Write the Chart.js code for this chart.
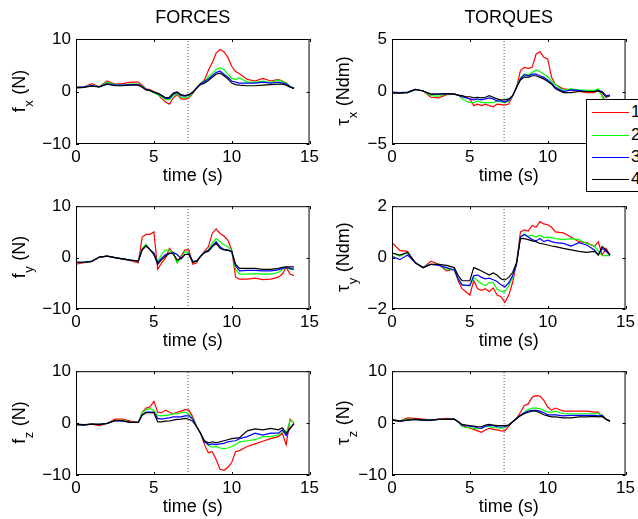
<!DOCTYPE html>
<html>
<head>
<meta charset="utf-8">
<script src="https://cdn.jsdelivr.net/npm/chart.js@4.4.1/dist/chart.umd.min.js"></script>
<style>
  body { margin: 0; background: #fff; overflow: hidden; }
  #wrap { position: relative; width: 638px; height: 519px; overflow: hidden; background: #fff; }
  #wrap canvas { position: absolute; }
  #legend {
    position: absolute; left: 586px; top: 99px; width: 70px; height: 91px;
    border: 1px solid #000; background: #fff; z-index: 5;
    font: 17px "Liberation Sans", Arial, sans-serif; color: #000;
  }
  #legend .row { position: absolute; left: 0; width: 70px; height: 20px; }
  #legend .ln { position: absolute; left: 5px; width: 37px; top: 10px; height: 0; border-top: 1px solid; }
  #legend .tx { position: absolute; left: 44px; top: 0; line-height: 20px; }
</style>
</head>
<body>
<div id="wrap">
  <div id="legend"></div>
</div>
<script>

// sample times (s), shared by every series
const time = [0, 0.5, 1, 1.5, 2, 2.5, 3, 3.5, 4,
  4.25, 4.5, 4.75, 5, 5.25, 5.5, 5.75, 6, 6.25, 6.5,
  6.75, 7, 7.25, 7.5, 7.75, 8, 8.25, 8.5, 8.75, 9,
  9.25, 9.5, 9.75, 10, 10.25, 10.5,
  11, 11.5, 12, 12.5, 13,
  13.25, 13.5, 13.75, 14];

const eventTime = 7.2;
const seriesNames = ['1', '2', '3', '4'];
const seriesColors = ['#ff0000', '#00ff00', '#0000ff', '#000000'];
const xTicks = [0, 5, 10, 15];

// f_x (N)
const fx1 = [0.6,0.8,1.5,0.9,2.0,1.4,1.5,1.8,1.8, 1.2,0.5,0.3,0.0,-0.5,-1.3,-2.0,-2.4,-1.2,-0.6, -1.4,-1.5,-1.2,-0.4,0.8,1.5,2.2,4.0,5.5,7.3, 8.0,7.6,6.5,4.8,3.8,3.4, 2.3,2.0,2.5,2.0,2.3, 2.0,1.6,1.0,0.6];
const fx2 = [0.7,0.8,1.2,0.9,1.8,1.3,1.2,1.4,1.4, 1.0,0.4,0.1,-0.3,-0.6,-1.0,-1.5,-1.6,-0.8,-0.4, -1.1,-1.2,-1.0,-0.3,0.7,1.6,2.0,2.8,3.4,4.2, 4.5,4.2,3.3,2.5,2.3,2.6, 1.8,1.8,2.0,1.7,2.2, 1.9,1.5,1.0,0.6];
const fx3 = [0.8,0.9,1.1,0.9,1.5,1.2,1.2,1.3,1.3, 0.9,0.4,0.2,-0.2,-0.4,-0.8,-1.3,-1.3,-0.5,-0.2, -0.8,-0.9,-0.7,-0.2,0.7,1.5,1.9,2.4,3.0,3.6, 3.9,3.3,2.7,2.0,1.8,1.6, 1.6,1.6,1.8,1.6,1.8, 1.6,1.4,0.9,0.6];
const fx4 = [0.8,0.8,1.0,0.9,1.4,1.1,1.1,1.2,1.2, 0.8,0.3,0.2,-0.1,-0.3,-0.7,-1.2,-1.1,-0.3,-0.1, -0.6,-0.8,-0.6,-0.1,0.6,1.3,1.6,2.1,2.7,3.3, 3.5,3.0,2.4,1.6,1.3,1.2, 1.1,1.1,1.2,1.3,1.4, 1.4,1.2,0.8,0.6];

// f_y (N)
const fy1 = [-1.3,-1.0,-0.8,0.1,0.3,0.0,-0.3,-0.6,-1.0, 4.0,4.5,4.5,5.0,-2.3,-1.0,-0.1,1.8,0.9,-1.0, 0.3,1.5,1.5,-1.3,-1.0,0.3,1.2,2.1,4.7,5.6, 4.7,4.2,3.4,1.5,-3.8,-4.2, -4.2,-4.0,-4.3,-4.2,-3.8, -3.2,-1.9,-3.2,-3.5];
const fy2 = [-0.9,-0.9,-0.75,0.1,0.3,0.0,-0.25,-0.5,-0.7, 1.8,2.6,1.5,0.6,-0.7,0.6,1.5,1.4,0.9,-1.0, -0.1,1.2,0.9,-0.9,-0.7,0.25,1.0,1.5,2.8,3.7, 3.1,2.5,2.1,1.4,-2.3,-3.2, -3.2,-3.1,-3.2,-3.2,-2.9, -2.3,-1.9,-2.3,-2.3];
const fy3 = [-0.9,-0.9,-0.75,0.1,0.3,0.0,-0.25,-0.5,-0.7, 1.5,2.3,1.5,0.9,-1.0,-0.1,0.6,0.75,1.0,0.6, -0.25,0.6,0.75,-0.7,-0.7,0.25,1.0,1.4,2.3,3.1, 2.1,1.6,1.5,1.2,-1.6,-2.6, -2.5,-2.5,-2.6,-2.6,-2.4, -2.1,-1.9,-2.1,-2.3];
const fy4 = [-0.9,-0.9,-0.75,0.1,0.3,0.0,-0.25,-0.5,-0.7, 1.5,2.3,1.6,0.6,-1.3,-0.4,0.25,0.9,0.7,-0.5, -0.1,0.6,0.6,-0.9,-0.7,0.25,1.0,1.2,2.1,2.8, 1.8,1.5,1.4,1.2,-1.3,-2.1, -2.1,-2.1,-2.3,-2.3,-2.1, -1.9,-1.8,-1.8,-1.8];

// f_z (N)
const fz1 = [-0.3,-0.4,-0.2,-0.5,-0.06,0.75,0.75,0.38,0.13, 2.1,2.9,3.1,4.2,2.1,2.0,2.5,2.1,1.8,2.1, 2.3,2.6,2.5,1.2,-0.7,-2.0,-4.15,-5.7,-5.5,-7.0, -8.9,-9.1,-8.55,-7.6,-5.5,-5.3, -4.5,-4.0,-3.5,-3.0,-2.6, -1.95,-4.15,0.75,0];
const fz2 = [-0.25,-0.4,-0.2,-0.25,-0.06,0.45,0.57,0.13,0.13, 2.0,2.6,2.8,2.5,1.5,1.4,1.5,1.6,1.8,1.8, 2.0,2.1,1.8,0.9,-0.7,-1.95,-3.5,-4.3,-4.65,-4.5, -4.8,-4.9,-4.8,-4.5,-4.15,-3.6, -3.4,-3.2,-2.6,-2.6,-2.3, -1.6,-1.95,0.57,0];
const fz3 = [-0.3,-0.4,-0.2,-0.25,-0.06,0.45,0.38,0.13,0.13, 1.6,2.1,2.1,2.1,0.9,0.75,0.9,1.0,1.2,1.2, 1.2,1.4,1.4,0.75,-0.7,-1.95,-3.6,-4.15,-4.0,-4.15, -4.0,-3.9,-3.6,-3.5,-3.4,-3.0, -2.6,-1.95,-2.3,-1.95,-1.95, -1.3,-2.4,-1.0,-0.1];
const fz4 = [-0.2,-0.3,-0.2,-0.25,-0.06,0.45,0.45,0.13,0.13, 1.5,2.0,2.0,2.0,0.25,0.25,0.38,0.4,0.57,0.7, 0.75,0.9,0.75,0.38,-0.7,-1.95,-3.4,-3.8,-3.6,-3.8, -3.6,-3.4,-3.2,-3.0,-2.9,-2.8, -1.5,-1.1,-1.3,-1.0,-1.3, -0.9,-1.95,-1.0,-0.1];

// tau_x (Ndm)
const tx1 = [-0.2,-0.15,-0.1,0.2,0.05,-0.55,-0.6,-0.3,-0.25, -0.35,-0.5,-0.55,-0.7,-1.35,-1.2,-1.35,-1.2,-1.35,-1.45, -1.2,-1.25,-1.3,-1.2,-0.4,0.4,2.0,2.3,2.2,2.3, 3.55,3.8,3.25,3.1,1.35,0.65, 0.25,0.15,0,-0.1,-0.1, 0.15,-0.4,-1.0,-0.8];
const tx2 = [-0.1,-0.15,-0.1,0.2,0.05,-0.4,-0.45,-0.25,-0.25, -0.35,-0.7,-0.9,-1.05,-1.05,-0.9,-1.05,-1.05,-1.05,-1.05, -0.9,-1.0,-1.05,-0.9,-0.4,0.4,1.3,1.65,1.6,1.8, 2.05,1.9,1.65,1.4,1.0,0.65, 0.1,0.25,0.15,0.1,0.1, 0.25,-0.5,-1.5,-1.5];
const tx3 = [-0.05,-0.1,-0.05,0.2,0.05,-0.25,-0.25,-0.2,-0.25, -0.35,-0.5,-0.6,-0.7,-0.8,-0.7,-0.8,-0.7,-0.6,-0.7, -0.9,-0.9,-1.0,-0.8,-0.4,0.4,1.2,1.6,1.5,1.65, 1.65,1.5,1.35,1.1,0.8,0.4, 0,0.15,0.1,0,0, 0.1,0,-0.4,-0.35];
const tx4 = [-0.1,-0.15,-0.1,0.2,0.05,-0.25,-0.25,-0.2,-0.25, -0.35,-0.4,-0.5,-0.5,-0.6,-0.55,-0.6,-0.55,-0.4,-0.55, -0.7,-0.8,-0.8,-0.7,-0.4,0.4,1.1,1.4,1.35,1.5, 1.5,1.35,1.2,0.95,0.7,0.25, -0.1,-0.1,0,0,0, 0.05,-0.1,-0.55,-0.4];

// tau_y (Ndm)
const ty1 = [0.58,0.28,0.24,-0.2,-0.4,-0.14,-0.26,-0.52,-0.45, -0.9,-1.21,-1.33,-1.46,-0.9,-1.21,-1.27,-1.21,-1.33,-1.18, -1.46,-1.52,-1.74,-1.46,-0.96,-0.2,1.0,1.08,1.03,1.25, 1.18,1.4,1.31,1.28,1.18,1.0, 0.96,0.8,0.62,0.58,0.43, 0.62,0.1,0.36,0.1];
const ty2 = [0.2,0.05,0.2,-0.2,-0.39,-0.26,-0.26,-0.45,-0.48, -0.83,-1.06,-1.08,-1.1,-0.77,-0.9,-1.02,-1.1,-0.96,-0.96, -1.23,-1.31,-1.33,-1.1,-0.77,-0.2,0.8,0.93,0.83,0.87, 0.8,0.87,0.78,0.8,0.78,0.74, 0.7,0.74,0.7,0.55,0.45, 0.24,0.08,0.08,0.08];
const ty3 = [0.05,-0.08,0.1,-0.2,-0.39,-0.26,-0.3,-0.39,-0.48, -0.83,-1.06,-1.08,-1.08,-0.7,-0.68,-0.77,-0.83,-0.8,-0.86, -0.93,-1.06,-1.14,-0.98,-0.7,-0.26,0.8,0.9,0.8,0.7, 0.65,0.74,0.62,0.68,0.62,0.58, 0.55,0.45,0.58,0.49,0.3, 0.1,0.36,0.24,0.1];
const ty4 = [0.18,0.1,0.2,-0.2,-0.39,-0.26,-0.26,-0.3,-0.39, -0.7,-0.9,-0.9,-0.9,-0.39,-0.45,-0.52,-0.6,-0.68,-0.6, -0.68,-0.83,-0.87,-0.77,-0.58,-0.2,0.75,0.74,0.7,0.65, 0.62,0.55,0.53,0.49,0.45,0.43, 0.36,0.3,0.24,0.2,0.24, 0.1,0.43,0.3,0.1];

// tau_z
const tz1 = [0.75,0.38,1.0,0.9,0.75,0.57,0.75,0.9,0.75, 0.25,-0.38,-0.7,-1.0,-1.2,-1.5,-1.76,-1.32,-1.0,-1.2, -1.32,-1.5,-1.5,-0.6,0.25,0.9,2.1,3.4,3.7,5.0, 5.3,5.2,4.4,3.1,2.5,2.9, 2.3,2.3,2.3,2.3,2.1, 2.1,1.2,0.75,0.38];
const tz2 = [0.57,0.38,0.75,0.7,0.57,0.57,0.7,0.7,0.75, 0.25,-0.7,-0.9,-0.9,-1.0,-1.13,-1.0,-0.7,-0.7,-0.9, -0.9,-1.0,-0.9,-0.38,0.25,0.9,1.5,2.1,2.6,2.9, 2.9,2.8,2.45,2.1,2.1,2.3, 1.8,1.8,1.8,1.8,1.8, 1.8,1.5,0.75,0.38];
const tz3 = [0.57,0.38,0.57,0.7,0.57,0.57,0.7,0.7,0.75, 0.25,-0.38,-0.5,-0.57,-0.7,-0.9,-1.0,-0.57,-0.5,-0.5, -0.7,-0.75,-0.7,-0.38,0.25,0.9,1.5,2.0,2.3,2.45, 2.45,2.3,2.0,1.6,1.6,1.6, 1.4,1.5,1.5,1.5,1.5, 1.4,1.5,0.75,0.38];
const tz4 = [0.57,0.38,0.57,0.7,0.57,0.57,0.7,0.7,0.75, 0.25,-0.25,-0.38,-0.5,-0.57,-0.7,-0.7,-0.38,-0.25,-0.38, -0.5,-0.5,-0.5,-0.38,0.25,0.9,1.4,1.8,2.1,2.3, 2.3,2.0,1.6,1.4,1.2,1.2, 1.0,1.0,1.2,1.2,1.3, 1.2,1.3,0.75,0.38];

const panels = [
  { col: 0, row: 0, series: [fx1, fx2, fx3, fx4], yTicks: [-10, 0, 10], sym: 'f', sub: 'x', unit: ' (N)', title: 'FORCES' },
  { col: 1, row: 0, series: [tx1, tx2, tx3, tx4], yTicks: [-5, 0, 5], sym: 'τ', sub: 'x', unit: ' (Ndm)', title: 'TORQUES' },
  { col: 0, row: 1, series: [fy1, fy2, fy3, fy4], yTicks: [-10, 0, 10], sym: 'f', sub: 'y', unit: ' (N)' },
  { col: 1, row: 1, series: [ty1, ty2, ty3, ty4], yTicks: [-2, 0, 2], sym: 'τ', sub: 'y', unit: ' (Ndm)' },
  { col: 0, row: 2, series: [fz1, fz2, fz3, fz4], yTicks: [-10, 0, 10], sym: 'f', sub: 'z', unit: ' (N)' },
  { col: 1, row: 2, series: [tz1, tz2, tz3, tz4], yTicks: [-10, 0, 10], sym: 'τ', sub: 'z', unit: ' (N)' }
];

// layout
const colLeft = [76, 392], rowTop = [39, 203, 368], rowH = [105, 106, 107];
const plotW = 234, padT = 12, padR = 12, axisW = 76, axisH = 46;
const labelX = [20, 28];
const FAM = '"Liberation Sans", Arial, Helvetica, sans-serif';

const minus = v => v < 0 ? '\u2212' + Math.abs(v) : String(v);

const framePlugin = {
    id: 'frame',
    afterDatasetsDraw(chart, args, o) {
        const ctx = chart.ctx;
        const {left, right, top, bottom} = chart.chartArea;
        const xs = chart.scales.x, ys = chart.scales.y;
        ctx.save();
        ctx.strokeStyle = '#000';
        ctx.lineWidth = 1;
        ctx.strokeRect(left + 0.5, top + 0.5, right - left - 1, bottom - top - 1);
        ctx.beginPath();
        xs.ticks.forEach(t => {
            const px = Math.round(xs.getPixelForValue(t.value)) + 0.5;
            ctx.moveTo(px, bottom); ctx.lineTo(px, bottom - 3);
            ctx.moveTo(px, top); ctx.lineTo(px, top + 3);
        });
        ys.ticks.forEach(t => {
            const py = Math.round(ys.getPixelForValue(t.value)) + 0.5;
            ctx.moveTo(left, py); ctx.lineTo(left + 3, py);
            ctx.moveTo(right, py); ctx.lineTo(right - 3, py);
        });
        ctx.stroke();

        // y label with subscript, rotated
        ctx.fillStyle = '#000';
        ctx.translate(o.labelX, (top + bottom) / 2);
        ctx.rotate(-Math.PI / 2);
        ctx.textBaseline = 'middle';
        ctx.textAlign = 'left';
        const big = '18px ' + FAM, small = '13px ' + FAM;
        ctx.font = big;
        const w1 = ctx.measureText(o.sym).width, w3 = ctx.measureText(o.unit).width;
        ctx.font = small;
        const w2 = ctx.measureText(o.sub).width;
        let x = -(w1 + w2 + w3) / 2;
        ctx.font = big; ctx.fillText(o.sym, x, 0); x += w1;
        ctx.font = small; ctx.fillText(o.sub, x + 0.5, 9); x += w2 + 1;
        ctx.font = big; ctx.fillText(o.unit, x, 0);
        ctx.restore();

        if (o.title) {
            ctx.save();
            ctx.fillStyle = '#000';
            ctx.font = '18px ' + FAM;
            ctx.textAlign = 'center';
            ctx.textBaseline = 'middle';
            ctx.fillText(o.title, (left + right) / 2, 18.5);
            ctx.restore();
        }
    }
};

const wrap = document.getElementById('wrap');

panels.forEach(p => {
    const cv = document.createElement('canvas');
    const top = p.row === 0 ? 0 : rowTop[p.row] - padT;
    const pt = rowTop[p.row] - top;
    const w = axisW + plotW + padR, h = pt + rowH[p.row] + axisH;
    cv.width = w; cv.height = h;
    cv.style.width = w + 'px'; cv.style.height = h + 'px';
    cv.style.left = (colLeft[p.col] - axisW) + 'px';
    cv.style.top = top + 'px';
    wrap.appendChild(cv);

    const yMin = p.yTicks[0], yMax = p.yTicks[p.yTicks.length - 1];

    const datasets = p.series.map((vals, i) => ({
        label: seriesNames[i],
        data: time.map((t, k) => ({x: t, y: vals[k]})),
        borderColor: seriesColors[i],
        borderWidth: 1.2,
        pointRadius: 0,
        tension: 0,
        order: 4 - i
    }));
    datasets.push({
        label: 'event',
        data: [{x: eventTime, y: yMin}, {x: eventTime, y: yMax}],
        borderColor: '#555',
        borderWidth: 1,
        borderDash: [1, 2],
        pointRadius: 0,
        order: 10
    });

    const tickFont = {family: FAM, size: 17};

    new Chart(cv, {
        type: 'line',
        data: {datasets},
        plugins: [framePlugin],
        options: {
            responsive: false,
            animation: false,
            devicePixelRatio: 1,
            events: [],
            layout: {padding: {top: pt, right: padR, left: 0, bottom: 0}},
            plugins: {
                legend: {display: false},
                tooltip: {enabled: false},
                frame: {labelX: labelX[p.col], sym: p.sym, sub: p.sub, unit: p.unit, title: p.title}
            },
            scales: {
                x: {
                    type: 'linear', min: 0, max: 15,
                    afterBuildTicks: s => { s.ticks = xTicks.map(v => ({value: v})); },
                    ticks: {font: tickFont, color: '#000', padding: 3, maxRotation: 0, autoSkip: false, callback: minus},
                    grid: {display: false, drawTicks: false},
                    border: {display: false},
                    title: {display: true, text: 'time (s)', color: '#000', font: {family: FAM, size: 18}, padding: {top: 0, bottom: 3}},
                    afterFit: s => { s.height = axisH; }
                },
                y: {
                    type: 'linear', min: yMin, max: yMax,
                    afterBuildTicks: s => { s.ticks = p.yTicks.map(v => ({value: v})); },
                    ticks: {font: tickFont, color: '#000', padding: 5, autoSkip: false, callback: minus},
                    grid: {display: false, drawTicks: false},
                    border: {display: false},
                    afterFit: s => { s.width = axisW; }
                }
            }
        }
    });
});

// legend box (overlaps the torque panel like the original)
const legend = document.getElementById('legend');
const legendRowY = [2, 25, 47, 69];
seriesNames.forEach((name, i) => {
    const row = document.createElement('div');
    row.className = 'row';
    row.style.top = legendRowY[i] + 'px';
    const ln = document.createElement('div');
    ln.className = 'ln';
    ln.style.borderTopColor = seriesColors[i];
    const tx = document.createElement('div');
    tx.className = 'tx';
    tx.textContent = name;
    row.appendChild(ln); row.appendChild(tx);
    legend.appendChild(row);
});
</script>
</body>
</html>
